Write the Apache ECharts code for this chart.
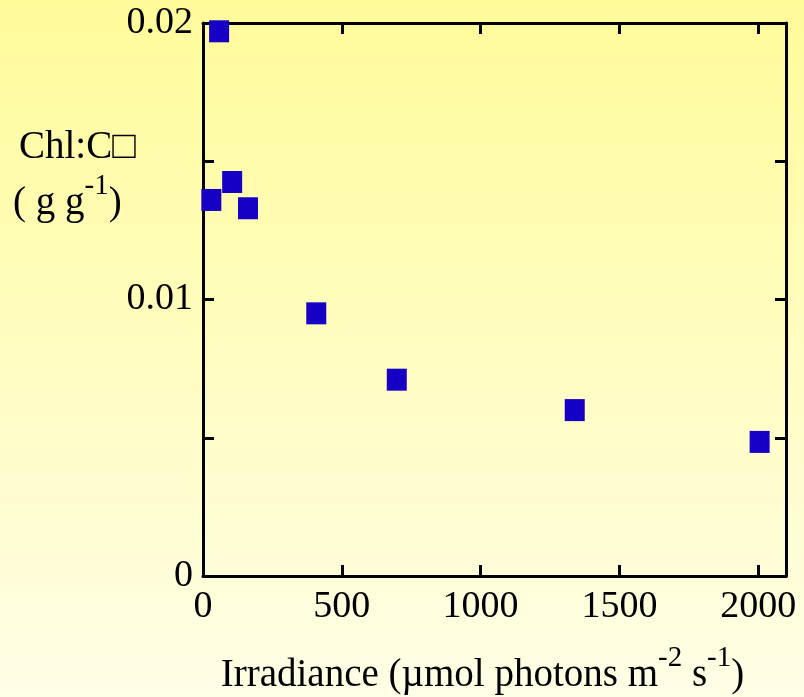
<!DOCTYPE html>
<html>
<head>
<meta charset="utf-8">
<script src="https://cdn.jsdelivr.net/npm/echarts@6/dist/echarts.min.js"></script>
<style>
  html, body { margin: 0; padding: 0; }
  #chart { width: 804px; height: 697px; }
</style>
</head>
<body>
<div id="chart"></div>
<script>
// irradiance (umol photons m-2 s-1) vs Chl:C (g g-1)
var irradiance = [58, 30, 105, 162, 408, 698, 1339, 2005]
var chlC = [0.0197, 0.0136, 0.01425, 0.0133, 0.0095, 0.0071, 0.0060, 0.00485]
var xTicks = [0, 500, 1000, 1500, 2000]
var yLabels = ['0', '0.01', '0.02']

var font = 'Liberation Serif'
var points = irradiance.map(function (x, i) { return [x, chlC[i]] })

var myChart = echarts.init(document.getElementById('chart'))

var axisLine = { show: true, onZero: false, lineStyle: { color: '#000', width: 3 } }
var axisTick = { show: true, inside: true, length: 11, lineStyle: { color: '#000', width: 3 } }

var option = {
  backgroundColor: new echarts.graphic.LinearGradient(0, 0, 0, 1, [
    { offset: 0, color: '#fffb9a' },
    { offset: 1, color: '#fffee6' }
  ]),
  animation: false,
  grid: { left: 203, right: 18, top: 23, bottom: 121, outerBoundsMode: 'none' },
  xAxis: [
    {
      type: 'value',
      min: 0,
      max: 2100,
      interval: 500,
      position: 'bottom',
      axisLine: axisLine,
      axisTick: axisTick,
      splitLine: { show: false },
      axisLabel: {
        color: '#000',
        fontFamily: font,
        fontSize: 38,
        margin: 12,
        showMaxLabel: false,
        formatter: function (v) { return xTicks.indexOf(v) > -1 ? String(v) : '' }
      },
      name: 'Irradiance (µmol photons m{sup|-2} s{sup|-1})',
      nameLocation: 'middle',
      nameGap: 68,
      nameTextStyle: {
        color: '#000',
        fontFamily: font,
        fontSize: 39,
        padding: [0, 24, 0, 0],
        rich: {
          sup: { fontFamily: font, fontSize: 29, color: '#000', padding: [0, 0, 34, 0] }
        }
      }
    },
    {
      type: 'value',
      min: 0,
      max: 2100,
      interval: 500,
      position: 'top',
      axisLine: axisLine,
      axisTick: axisTick,
      axisLabel: { show: false },
      splitLine: { show: false }
    }
  ],
  yAxis: [
    {
      type: 'value',
      min: 0,
      max: 0.02,
      interval: 0.005,
      position: 'left',
      axisLine: axisLine,
      axisTick: axisTick,
      splitLine: { show: false },
      axisLabel: {
        color: '#000',
        fontFamily: font,
        fontSize: 38,
        margin: 10,
        formatter: function (v) {
          var k = Math.round(v * 100)
          if (Math.abs(v * 100 - k) > 1e-6) return ''
          return yLabels[k]
        }
      }
    },
    {
      type: 'value',
      min: 0,
      max: 0.02,
      interval: 0.005,
      position: 'right',
      axisLine: axisLine,
      axisTick: axisTick,
      axisLabel: { show: false },
      splitLine: { show: false }
    }
  ],
  graphic: [
    {
      type: 'text',
      left: 19,
      top: 128,
      style: {
        text: 'Chl:C□',
        font: '39px "Liberation Serif"',
        fill: '#000'
      }
    },
    {
      type: 'text',
      left: 13,
      top: 172,
      style: {
        text: '( g g{sup|-1})',
        font: '39px "Liberation Serif"',
        fill: '#000',
        rich: {
          sup: { fontFamily: font, fontSize: 29, fill: '#000', padding: [0, 0, 34, 0] }
        }
      }
    }
  ],
  series: [
    {
      type: 'scatter',
      data: points,
      clip: false,
      symbol: 'rect',
      symbolSize: [20, 22],
      itemStyle: { color: '#1600c6', opacity: 1 }
    }
  ]
}
myChart.setOption(option)
</script>
</body>
</html>
